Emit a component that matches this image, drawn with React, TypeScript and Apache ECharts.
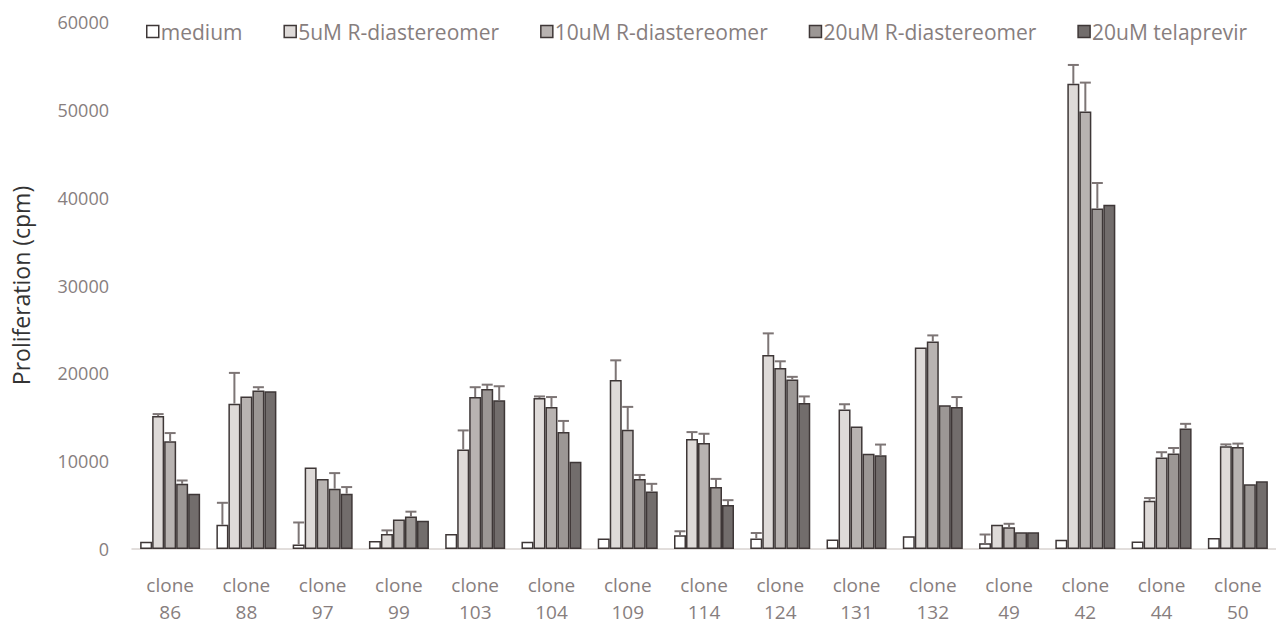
import React, { useEffect, useRef } from "react";
import * as echarts from "echarts";

const categories = [
  "clone\n86", "clone\n88", "clone\n97", "clone\n99", "clone\n103", "clone\n104", "clone\n109",
  "clone\n114", "clone\n124", "clone\n131", "clone\n132", "clone\n49", "clone\n42", "clone\n44", "clone\n50",
];

const seriesNames = ["medium", "5uM R-diastereomer", "10uM R-diastereomer", "20uM R-diastereomer", "20uM telaprevir"];

const medium = [820, 2760, 520, 900, 1720, 820, 1190, 1570, 1190, 1080, 1450, 650, 1060, 850, 1250];
const mediumErr = [0, 2500, 2500, 0, 0, 0, 0, 450, 630, 0, 0, 1000, 0, 0, 0];

const r5 = [15130, 16550, 9280, 1720, 11330, 17190, 19240, 12530, 22100, 15880, 22950, 2750, 52960, 5480, 11710];
const r5Err = [230, 3500, 0, 400, 2170, 180, 2240, 780, 2450, 600, 0, 0, 2150, 320, 200];

const r10 = [12270, 17370, 7980, 3350, 17300, 16180, 13570, 12080, 20600, 13950, 23620, 2470, 49800, 10420, 11600];
const r10Err = [930, 0, 0, 0, 1120, 1120, 2610, 1040, 770, 0, 700, 400, 3300, 600, 400];

const r20 = [7420, 18050, 6860, 3690, 18230, 13310, 7980, 7050, 19300, 10850, 16370, 1900, 38770, 10870, 7370];
const r20Err = [380, 370, 1780, 560, 480, 1270, 450, 930, 300, 0, 0, 0, 2900, 630, 0];

const tel = [6300, 17970, 6300, 3210, 16930, 9920, 6560, 5000, 16630, 10660, 16180, 1900, 39180, 13730, 7700];
const telErr = [0, 0, 750, 0, 1600, 0, 860, 560, 740, 1230, 1120, 0, 0, 520, 0];

const yTicks = [0, 10000, 20000, 30000, 40000, 50000, 60000];

const values = [medium, r5, r10, r20, tel];
const errors = [mediumErr, r5Err, r10Err, r20Err, telErr];
const fills = ["#ffffff", "#dedad8", "#b8b3b1", "#9c9795", "#726d6c"];
const BAR_W = 12;

export default function App() {
  const ref = useRef<HTMLDivElement>(null);
  useEffect(() => {
    if (!ref.current) return;
    const chart = echarts.init(ref.current, undefined, { renderer: "svg" });
    const font = "'Open Sans', sans-serif";
    const textColor = "#877e7e";
    const barSeries: any[] = seriesNames.map((name, i) => ({
      name,
      type: "bar",
      data: values[i],
      barWidth: BAR_W,
      barGap: "0%",
      itemStyle: { color: fills[i], borderColor: "#3e3737", borderWidth: 1.5 },
      z: 2,
    }));
    const errSeries: any[] = seriesNames.map((name, i) => ({
      name: name + " error",
      type: "custom",
      z: 3,
      silent: true,
      data: values[i].map((v, k) => [k, v, errors[i][k]]),
      encode: { x: 0, y: 1 },
      renderItem: (params: any, api: any) => {
        const idx = api.value(0);
        const val = api.value(1);
        const err = api.value(2);
        if (!err || err <= 0) return null;
        const p1 = api.coord([idx, val]);
        const p2 = api.coord([idx, val + err]);
        const x = p1[0] + (i - 2) * BAR_W;
        const st = { stroke: "#7d7575", lineWidth: 2 };
        return {
          type: "group",
          children: [
            { type: "line", shape: { x1: x, y1: p1[1], x2: x, y2: p2[1] }, style: st },
            { type: "line", shape: { x1: x - 5.5, y1: p2[1], x2: x + 5.5, y2: p2[1] }, style: st },
          ],
        };
      },
    }));
    chart.setOption({
      animation: false,
      textStyle: { fontFamily: font },
      legend: {
        data: seriesNames,
        left: 141,
        top: 16,
        itemWidth: 12,
        itemHeight: 12,
        itemGap: 41,
        icon: "rect",
        itemStyle: { borderColor: "#3e3737", borderWidth: 1.5 },
        textStyle: { color: textColor, fontSize: 21, fontFamily: font, padding: [0, 0, 0, -3] },
      },
      grid: { left: 132, right: -13, top: 22, bottom: 66 },
      xAxis: {
        type: "category",
        data: categories,
        axisLine: { lineStyle: { color: "#d9d3d1", width: 1.5 } },
        axisTick: { show: false },
        axisLabel: { color: textColor, fontSize: 19, lineHeight: 27, margin: 22, fontFamily: font },
      },
      yAxis: {
        type: "value",
        min: 0,
        max: yTicks[yTicks.length - 1],
        interval: yTicks[1] - yTicks[0],
        name: "Proliferation (cpm)",
        nameLocation: "middle",
        nameGap: 100,
        nameTextStyle: { color: "#333333", fontSize: 23, fontFamily: font },
        axisLine: { show: false },
        axisTick: { show: false },
        splitLine: { show: false },
        axisLabel: { color: textColor, fontSize: 18, margin: 23, fontFamily: font, formatter: (v: number) => String(v) },
      },
      series: [...barSeries, ...errSeries],
    });
    return () => chart.dispose();
  }, []);
  return <div ref={ref} style={{ position: "absolute", left: 0, top: 0, width: 1276, height: 625 }} />;
}
